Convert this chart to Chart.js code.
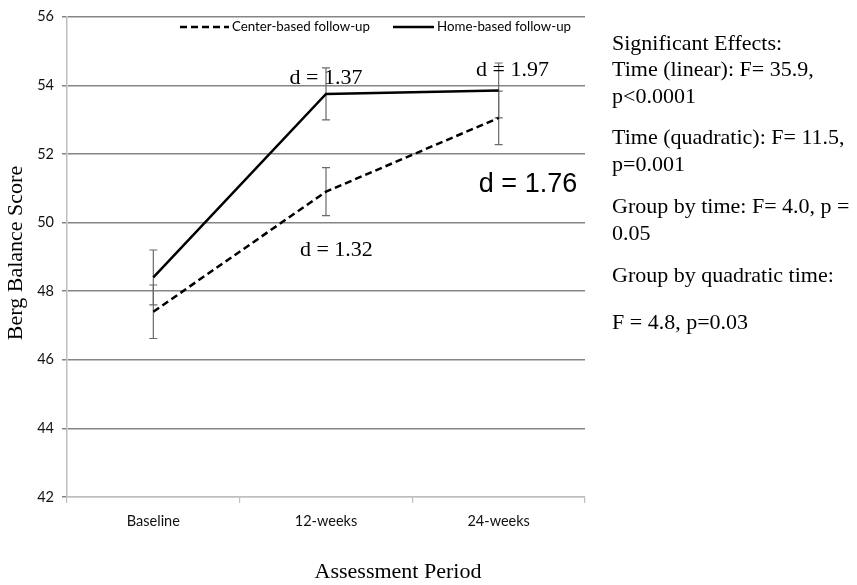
<!DOCTYPE html>
<html>
<head>
<meta charset="utf-8">
<script src="https://cdn.jsdelivr.net/npm/chart.js@4"></script>
<style>
  html, body { margin: 0; padding: 0; background: #fff; }
</style>
</head>
<body>
<canvas id="c" width="857" height="585"></canvas>
<script>
const periods = ['Baseline', '12-weeks', '24-weeks'];
const centerBased = [47.4, 50.9, 53.05];
const homeBased = [48.4, 53.75, 53.85];
const centerErr = [0.78, 0.7, 0.78];
const homeErr = [0.8, 0.76, 0.8];
const yTicks = [42, 44, 46, 48, 50, 52, 54, 56];

// effect sizes written next to the lines: [text, category position, value]
const effectNotes = [
  ['d = 1.37', 1.0, 54.2],
  ['d = 1.97', 2.08, 54.45],
  ['d = 1.32', 1.06, 49.2]
];
const bigNote = ['d = 1.76', 2.17, 51.1];

const sideText = [
  'Significant Effects:',
  'Time (linear): F= 35.9,',
  'p<0.0001',
  'Time (quadratic): F= 11.5,',
  'p=0.001',
  'Group by time: F= 4.0, p =',
  '0.05',
  'Group by quadratic time:',
  'F = 4.8, p=0.03'
];
const sideY = [44, 70, 97, 138, 165, 207, 234, 276, 323];

const serif = '"Liberation Serif", "Times New Roman", serif';
const narrow = 'Lato, "Open Sans", sans-serif';

function catPixel(x, pos) {
  const i = Math.floor(pos);
  const a = x.getPixelForValue(i);
  const step = x.getPixelForValue(1) - x.getPixelForValue(0);
  return a + (pos - i) * step;
}

const extras = {
  id: 'extras',
  beforeDatasetsDraw(chart) {
    const ctx = chart.ctx;
    const x = chart.scales.x, y = chart.scales.y;
    ctx.save();
    ctx.strokeStyle = '#6a6a6a';
    ctx.lineWidth = 1.2;
    const bars = [[centerBased, centerErr], [homeBased, homeErr]];
    bars.forEach(([vals, errs]) => {
      vals.forEach((v, i) => {
        const px = x.getPixelForValue(i);
        const top = y.getPixelForValue(v + errs[i]);
        const bot = y.getPixelForValue(v - errs[i]);
        ctx.beginPath();
        ctx.moveTo(px, top); ctx.lineTo(px, bot);
        ctx.moveTo(px - 4, top); ctx.lineTo(px + 4, top);
        ctx.moveTo(px - 4, bot); ctx.lineTo(px + 4, bot);
        ctx.stroke();
      });
    });
    ctx.restore();
  },
  afterDraw(chart) {
    const ctx = chart.ctx;
    const x = chart.scales.x, y = chart.scales.y;
    ctx.save();
    ctx.fillStyle = '#000';
    ctx.textBaseline = 'middle';
    ctx.textAlign = 'center';
    ctx.font = '22px ' + serif;
    effectNotes.forEach(([t, p, v]) => {
      ctx.fillText(t, catPixel(x, p), y.getPixelForValue(v));
    });
    ctx.font = '27px "Liberation Sans", Arial, sans-serif';
    ctx.fillText(bigNote[0], catPixel(x, bigNote[1]), y.getPixelForValue(bigNote[2]));

    // legend inside the plot, top
    const legendPos = [[180, 229, 232], [393, 434, 437]];
    ctx.font = '13.3px ' + narrow;
    ctx.textAlign = 'left';
    chart.data.datasets.forEach((ds, k) => {
      const [x0, x1, tx] = legendPos[k];
      ctx.save();
      ctx.strokeStyle = ds.borderColor;
      ctx.lineWidth = ds.borderWidth;
      ctx.setLineDash(ds.borderDash || []);
      ctx.beginPath();
      ctx.moveTo(x0, 27); ctx.lineTo(x1, 27);
      ctx.stroke();
      ctx.restore();
      ctx.fillText(ds.label, tx, 27);
    });

    // axis titles
    ctx.textAlign = 'center';
    ctx.font = '22px ' + serif;
    ctx.fillText('Assessment Period', 398, 572);
    ctx.save();
    ctx.translate(16, 253);
    ctx.rotate(-Math.PI / 2);
    ctx.fillText('Berg Balance Score', 0, 0);
    ctx.restore();

    // statistics on the right
    ctx.textAlign = 'left';
    ctx.font = '22px ' + serif;
    sideText.forEach((t, k) => ctx.fillText(t, 612, sideY[k]));
    ctx.restore();
  }
};

new Chart(document.getElementById('c'), {
  type: 'line',
  data: {
    labels: periods,
    datasets: [
      {
        label: 'Center-based follow-up',
        data: centerBased,
        borderColor: '#000',
        backgroundColor: '#000',
        borderWidth: 2.5,
        borderDash: [7, 4],
        pointRadius: 0,
        tension: 0
      },
      {
        label: 'Home-based follow-up',
        data: homeBased,
        borderColor: '#000',
        backgroundColor: '#000',
        borderWidth: 2.5,
        pointRadius: 0,
        tension: 0
      }
    ]
  },
  options: {
    responsive: false,
    animation: false,
    devicePixelRatio: 1,
    layout: { padding: { top: 11, right: 272, left: 0, bottom: 0 } },
    plugins: {
      tooltip: { enabled: false },
      legend: { display: false }
    },
    scales: {
      x: {
        offset: true,
        afterFit(s) { s.height = 88; },
        grid: {
          offset: true,
          drawOnChartArea: false,
          drawTicks: true,
          tickLength: 6,
          color: '#bfbfbf',
          lineWidth: 1.2
        },
        border: { color: '#bfbfbf', width: 1.5 },
        ticks: {
          color: '#111',
          padding: 10,
          font: { family: narrow, size: 14.5 }
        }
      },
      y: {
        min: 42,
        max: 56,
        afterFit(s) { s.width = 67; },
        afterBuildTicks(s) { s.ticks = yTicks.map(v => ({ value: v })); },
        grid: {
          color: c => (c.tick && c.tick.value === 42 ? '#bfbfbf' : '#858585'),
          lineWidth: 1.5,
          tickLength: 5,
          tickColor: '#858585'
        },
        border: { color: '#bfbfbf', width: 1.5 },
        ticks: {
          color: '#111',
          padding: 8,
          font: { family: narrow, size: 14.5 }
        }
      }
    }
  },
  plugins: [extras]
});
</script>
</body>
</html>
